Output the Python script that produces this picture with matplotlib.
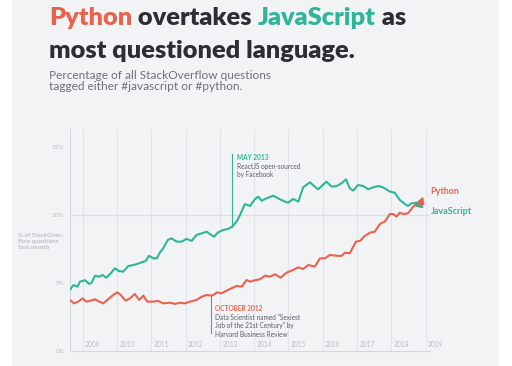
import matplotlib
matplotlib.use("Agg")
import matplotlib.pyplot as plt
from matplotlib.patches import Rectangle
from matplotlib.offsetbox import TextArea, HPacker, AnchoredOffsetbox

# ---- data ----
js_year = [2008.63, 2008.73, 2008.85, 2008.92, 2009.07, 2009.19, 2009.26, 2009.36, 2009.48, 2009.58,
           2009.68, 2009.80, 2009.94, 2010.06, 2010.18, 2010.33, 2010.48, 2010.59, 2010.72, 2010.84,
           2010.93, 2011.06, 2011.16, 2011.25, 2011.35, 2011.48, 2011.59, 2011.74, 2011.89, 2012.03,
           2012.18, 2012.32, 2012.47, 2012.62, 2012.71, 2012.83, 2012.95, 2013.10, 2013.24, 2013.36,
           2013.49, 2013.59, 2013.73, 2013.88, 2014.02, 2014.12, 2014.22, 2014.36, 2014.56, 2014.70,
           2014.90, 2014.99, 2015.14, 2015.29, 2015.43, 2015.63, 2015.77, 2015.87, 2016.00, 2016.11,
           2016.26, 2016.41, 2016.55, 2016.68, 2016.79, 2016.89, 2017.03, 2017.18, 2017.33, 2017.47,
           2017.62, 2017.76, 2017.96, 2018.10, 2018.25, 2018.40, 2018.49, 2018.59, 2018.74, 2018.83,
           2018.95]
js_pct = [4.49, 4.85, 4.73, 5.10, 5.20, 4.93, 5.02, 5.54, 5.46, 5.59,
          5.39, 5.66, 6.08, 5.88, 5.83, 6.25, 6.32, 6.40, 6.52, 6.62,
          7.00, 6.81, 6.81, 7.23, 7.55, 8.16, 8.28, 8.04, 8.04, 8.24,
          8.09, 8.53, 8.65, 8.77, 8.60, 8.40, 8.72, 8.90, 8.97, 9.14,
          9.51, 10.00, 10.80, 10.66, 11.15, 11.35, 11.05, 11.22, 11.42, 11.22,
          10.98, 10.90, 11.18, 10.98, 12.03, 12.40, 12.08, 11.89, 12.20, 12.45,
          12.08, 12.13, 12.33, 12.62, 11.96, 11.79, 12.20, 12.13, 11.89, 12.03,
          12.13, 12.03, 11.72, 11.64, 11.10, 10.80, 10.66, 10.86, 10.90, 10.74,
          10.49]

py_year = [2008.63, 2008.75, 2008.87, 2009.00, 2009.10, 2009.21, 2009.36, 2009.48, 2009.60, 2009.75,
           2009.89, 2010.01, 2010.11, 2010.25, 2010.38, 2010.52, 2010.65, 2010.77, 2010.88, 2011.06,
           2011.20, 2011.35, 2011.55, 2011.69, 2011.84, 2011.98, 2012.13, 2012.32, 2012.47, 2012.62,
           2012.73, 2012.81, 2012.92, 2013.05, 2013.20, 2013.34, 2013.49, 2013.64, 2013.78, 2013.88,
           2014.02, 2014.17, 2014.32, 2014.46, 2014.61, 2014.77, 2014.95, 2015.14, 2015.29, 2015.43,
           2015.58, 2015.77, 2015.92, 2016.06, 2016.21, 2016.41, 2016.55, 2016.65, 2016.79, 2016.97,
           2017.09, 2017.23, 2017.38, 2017.52, 2017.67, 2017.81, 2017.96, 2018.06, 2018.15, 2018.25,
           2018.35, 2018.49, 2018.64, 2018.74, 2018.83, 2018.93]
py_pct = [3.75, 3.50, 3.63, 3.87, 3.63, 3.68, 3.80, 3.63, 3.50, 3.82,
          4.12, 4.31, 4.12, 3.70, 3.87, 4.19, 3.75, 4.07, 3.63, 3.63,
          3.68, 3.50, 3.55, 3.46, 3.55, 3.50, 3.63, 3.75, 3.99, 4.12,
          4.07, 4.12, 4.31, 4.24, 4.44, 4.61, 4.78, 4.73, 5.22, 5.10,
          5.20, 5.27, 5.54, 5.46, 5.64, 5.39, 5.76, 5.96, 6.15, 6.03,
          6.32, 6.20, 6.81, 6.81, 7.06, 7.00, 6.99, 7.23, 7.18, 8.04,
          8.10, 8.46, 8.70, 8.77, 9.34, 9.51, 10.07, 10.07, 9.88, 10.17,
          10.07, 10.12, 10.61, 10.80, 10.66, 11.35]

years = [2009, 2010, 2011, 2012, 2013, 2014, 2015, 2016, 2017, 2018, 2019]
yticks = [0, 5, 10, 15]
ytick_labels = ["0%", "5%", "10%", "15%"]

react_year, react_pct = 2013.36, 9.14
ds_year, ds_pct = 2012.73, 4.07

RED = "#e9624d"
GREEN = "#2fb597"
DARK = "#2b2e35"
GREYTXT = "#b9bdc3"
GRID = "#e2e4e8"
BG = "#f2f3f5"

W, H = 512, 366
fig = plt.figure(figsize=(W / 100, H / 100), dpi=100, facecolor="white")
fig.patches.append(Rectangle((12 / W, 0), (499 - 12) / W, 1, transform=fig.transFigure,
                             facecolor=BG, edgecolor="none", zorder=-10))

x0, x1 = 70, 430
y_top, y_bot = 129, 351
ax = fig.add_axes([x0 / W, (H - y_bot) / H, (x1 - x0) / W, (y_bot - y_top) / H])
ax.set_facecolor("none")
ax.set_xlim(2008.63, 2019.13)
ax.set_ylim(0, 16.32)
for s in ["top", "right"]:
    ax.spines[s].set_visible(False)
ax.spines["left"].set_color("#d4d7db")
ax.spines["bottom"].set_color("#d4d7db")
ax.spines["left"].set_linewidth(0.8)
ax.spines["bottom"].set_linewidth(0.8)
ax.set_xticks([])
ax.set_yticks(yticks)
ax.set_yticklabels(ytick_labels, fontsize=4.6, color=GREYTXT, family="Lato")
ax.tick_params(axis="y", length=0, pad=4)

for yr in years:
    ax.axvline(yr, color=GRID, lw=0.8, zorder=0)
    ax.text(yr + 0.07, 0.25, str(yr), fontsize=4.8, color=GREYTXT, family="Lato",
            ha="left", va="bottom")
ax.axhline(10, color="#dcdfe3", lw=0.8, zorder=0)

ax.plot(js_year[:-1], js_pct[:-1], color=GREEN, lw=1.5, solid_capstyle="round",
        solid_joinstyle="round", zorder=3)
ax.plot(py_year[:-1], py_pct[:-1], color=RED, lw=1.5, solid_capstyle="round",
        solid_joinstyle="round", zorder=3)
for xs, ys, c in [(js_year, js_pct, GREEN), (py_year, py_pct, RED)]:
    ax.annotate("", xy=(xs[-1], ys[-1]), xytext=(xs[-2], ys[-2]),
                arrowprops=dict(arrowstyle="-|>,head_length=0.35,head_width=0.2",
                                color=c, lw=1.5, shrinkA=0, shrinkB=0), zorder=3)

ax.text(2019.15, 11.7, "Python", color=RED, fontsize=6.5, weight="bold", family="Lato",
        ha="left", va="center", clip_on=False)
ax.text(2019.15, 10.28, "JavaScript", color=GREEN, fontsize=6.5, weight="bold", family="Lato",
        ha="left", va="center", clip_on=False)

# annotations
ax.plot([react_year, react_year], [react_pct, 14.5], color=GREEN, lw=0.8, zorder=2)
ax.text(react_year + 0.13, 14.45, "MAY 2013", color=GREEN, fontsize=4.7, weight="bold",
        family="Lato", ha="left", va="top")
ax.text(react_year + 0.13, 13.85, "ReactJS open-sourced\nby Facebook", color="#5a5e66",
        fontsize=4.7, family="Lato", ha="left", va="top", linespacing=1.25)

ax.plot([ds_year, ds_year], [ds_pct, 1.35], color=RED, lw=0.8, zorder=2)
ax.text(ds_year + 0.13, 3.35, "OCTOBER 2012", color=RED, fontsize=4.7, weight="bold",
        family="Lato", ha="left", va="top")
ax.text(ds_year + 0.13, 2.75, "Data Scientist named \"Sexiest\nJob of the 21st Century\" by\nHarvard Business Review",
        color="#5a5e66", fontsize=4.7, family="Lato", ha="left", va="top", linespacing=1.25)

fig.text(18 / W, 1 - 233 / H, "% of StackOver-\nflow questions\nthat month", color=GREYTXT,
         fontsize=4.4, weight="bold", family="Lato", ha="left", va="top", linespacing=1.3)

# title
tprops = dict(fontsize=18.3, weight="heavy", family="Lato")
parts = [TextArea("Python", textprops=dict(color=RED, **tprops)),
         TextArea(" overtakes ", textprops=dict(color=DARK, **tprops)),
         TextArea("JavaScript", textprops=dict(color=GREEN, **tprops)),
         TextArea(" as", textprops=dict(color=DARK, **tprops))]
row = HPacker(children=parts, pad=0, sep=0, align="baseline")
ab = AnchoredOffsetbox(loc="upper left", child=row, pad=0, borderpad=0, frameon=False,
                       bbox_to_anchor=(49 / W, 1 - 7 / H), bbox_transform=fig.transFigure)
fig.add_artist(ab)
fig.text(49 / W, 1 - 58.5 / H, "most questioned language.", color=DARK, fontsize=18.3,
         weight="heavy", family="Lato", ha="left", va="baseline")
fig.text(49 / W, 1 - 79 / H, "Percentage of all StackOverflow questions", color="#6d7179",
         fontsize=8.6, family="Lato", ha="left", va="baseline")
fig.text(49 / W, 1 - 90.5 / H, "tagged either #javascript or #python.", color="#6d7179",
         fontsize=8.6, family="Lato", ha="left", va="baseline")

fig.savefig("out.png", dpi=100, facecolor="white")
